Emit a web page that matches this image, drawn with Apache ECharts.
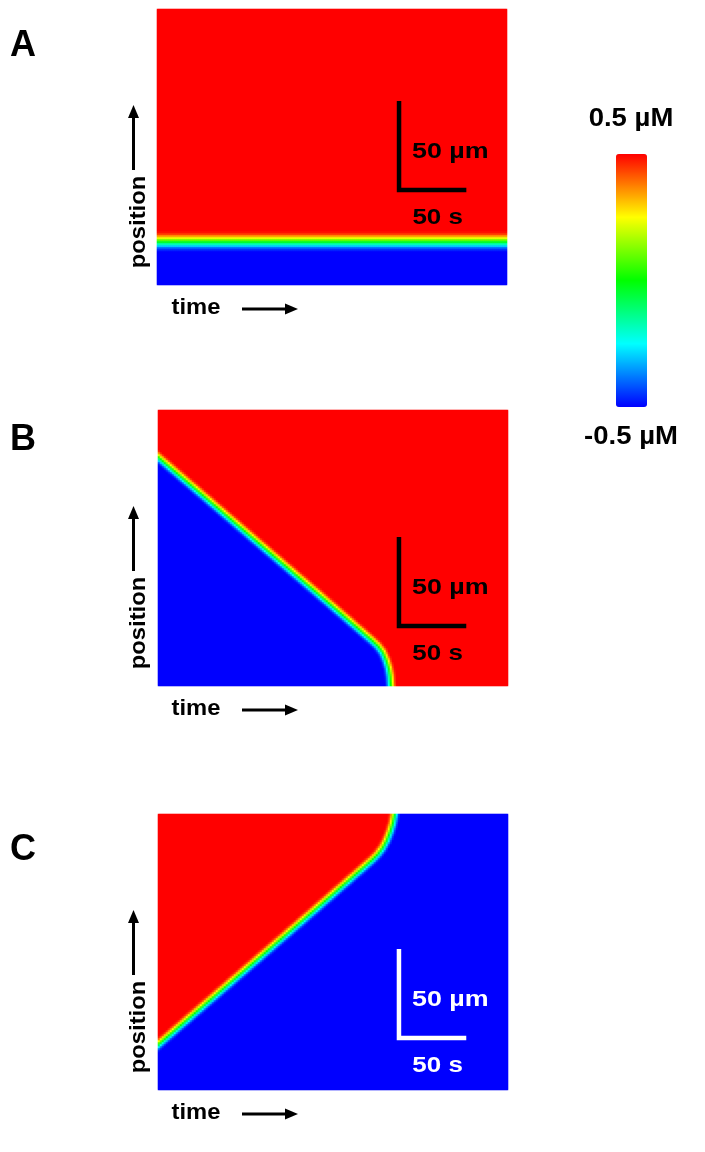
<!DOCTYPE html>
<html><head><meta charset="utf-8">
<script src="https://cdn.jsdelivr.net/npm/echarts@6/dist/echarts.min.js"></script>
<style>html,body{margin:0;padding:0;background:#fff}#chart{width:705px;height:1152px}</style>
</head><body><div id="chart"></div>
<script>
// ---------------- data ----------------
const panelNames = ['A', 'B', 'C'];
const timeRange = [0, 260];       // s   (panel width, from the 50 s scale bar)
const positionRange = [0, 155];   // µm  (panel height, from the 50 µm scale bar)
const concRange = [-0.5, 0.5];    // µM
const colorbarLabels = ['0.5 µM', '-0.5 µM'];
const scaleBarLength = 50;        // 50 µm and 50 s
const scaleBarLabels = ['50 µm', '50 s'];
const axisNames = ['position', 'time'];

// front (0 µM mid-point) position versus time for each kymograph
const frontTimeA = [0, 65, 130, 195, 260];
const frontPosA  = [24.5, 24.5, 24.5, 24.5, 24.5];
const frontTimeB = [0, 40, 80, 120, 159.0, 163.4, 167.1, 169.7, 171.6, 172.7, 173.2];
const frontPosB  = [128.8, 103.0, 77.1, 51.3, 25.8, 22.7, 19.1, 14.6, 10.1, 5.6, 0];
const frontTimeC = [0, 40, 80, 120, 159.0, 163.4, 167.1, 170.1, 172.7, 174.6, 175.9];
const frontPosC  = [25.4, 51.4, 77.4, 103.5, 129.2, 132.5, 136.2, 140.4, 145.4, 149.9, 155];
// concentration once the front has left the panel (+1 -> 0.5 µM, -1 -> -0.5 µM)
const afterFrontA = 1, afterFrontB = 1, afterFrontC = -1;
// concentration across the front (distance in front half-widths -> µM)
const profileDist = [-1, -0.7, -0.35, 0, 0.35, 0.7, 1];
const profileConc = [-0.5, -0.43, -0.24, 0, 0.24, 0.43, 0.5];
const frontHalfWidth = [10, 6, 6]; // px, A is more diffuse
const colormap = ['#0000ff', '#00ffff', '#00ff00', '#ffff00', '#ff0000'];

// ---------------- layout ----------------
const FONT = '"Liberation Sans", Arial, sans-serif';
const panels = [
  { left: 157, top: 9,   width: 350, height: 276, bar: [179.8, 53.4], barColor: '#000' },
  { left: 158, top: 410, width: 350, height: 276, bar: [179.0, 33.7], barColor: '#000' },
  { left: 158, top: 814, width: 350, height: 276, bar: [179.0, 29.2], barColor: '#fff' }
];
const nCols = 175, nRows = 138;
const fronts = [[frontTimeA, frontPosA, afterFrontA], [frontTimeB, frontPosB, afterFrontB], [frontTimeC, frontPosC, afterFrontC]];

function interp(xs, ys, x) {
  if (x <= xs[0]) return ys[0];
  for (let k = 1; k < xs.length; k++) {
    if (x <= xs[k]) { const f = (x - xs[k-1]) / (xs[k] - xs[k-1]); return ys[k-1] + f * (ys[k] - ys[k-1]); }
  }
  return ys[ys.length - 1];
}
function segDist(px, py, ax, ay, bx, by) {
  const dx = bx - ax, dy = by - ay; const L = dx*dx + dy*dy;
  let u = L > 0 ? ((px-ax)*dx + (py-ay)*dy) / L : 0; u = Math.max(0, Math.min(1, u));
  const qx = ax + u*dx - px, qy = ay + u*dy - py; return Math.sqrt(qx*qx + qy*qy);
}
const timeCats = [], posCats = [];
for (let i = 0; i < nCols; i++) timeCats.push(((i + 0.5) / nCols * (timeRange[1] - timeRange[0])).toFixed(2));
for (let j = 0; j < nRows; j++) posCats.push(((j + 0.5) / nRows * (positionRange[1] - positionRange[0])).toFixed(2));

function buildCells(pi) {
  const [ft, fp, after] = fronts[pi];
  const pw = panels[pi].width, ph = panels[pi].height;
  const sx = pw / timeRange[1], sy = ph / positionRange[1];
  const pts = ft.map((t, k) => [t * sx, fp[k] * sy]);
  const ext = (a, b) => { const dx = b[0]-a[0], dy = b[1]-a[1], l = Math.hypot(dx, dy) || 1; return [b[0] + dx/l*60, b[1] + dy/l*60]; };
  const poly = [ext(pts[1], pts[0])].concat(pts, [ext(pts[pts.length-2], pts[pts.length-1])]);
  const hw = frontHalfWidth[pi];
  const cells = [];
  for (let i = 0; i < nCols; i++) {
    const t = +timeCats[i];
    const past = t > ft[ft.length - 1];
    const pf = past ? null : interp(ft, fp, t);
    for (let j = 0; j < nRows; j++) {
      const p = +posCats[j];
      const side = past ? after : (p >= pf ? 1 : -1);
      const cx = t * sx, cy = p * sy;
      let d = Infinity;
      for (let k = 1; k < poly.length; k++) d = Math.min(d, segDist(cx, cy, poly[k-1][0], poly[k-1][1], poly[k][0], poly[k][1]));
      const s = Math.max(-1, Math.min(1, side * d / hw));
      cells.push([i, j, +interp(profileDist, profileConc, s).toFixed(3)]);
    }
  }
  return cells;
}

const grids = [], xAxes = [], yAxes = [], series = [];
panels.forEach(P => grids.push({ left: P.left, top: P.top, width: P.width, height: P.height }));
panels.forEach(P => grids.push({ left: P.left, top: P.top, width: P.width, height: P.height }));
panels.forEach((P, i) => {
  xAxes.push({ type: 'category', gridIndex: i, data: timeCats, show: false });
  yAxes.push({ type: 'category', gridIndex: i, data: posCats, show: false });
});
panels.forEach((P, i) => {
  xAxes.push({ type: 'value', gridIndex: 3 + i, min: timeRange[0], max: timeRange[1], show: false });
  yAxes.push({ type: 'value', gridIndex: 3 + i, min: positionRange[0], max: positionRange[1], show: false });
});
panels.forEach((P, i) => {
  series.push({ type: 'heatmap', name: panelNames[i], xAxisIndex: i, yAxisIndex: i, data: buildCells(i), progressive: 0, silent: true, emphasis: { disabled: true } });
});
panels.forEach((P, i) => {
  const [t0, p0] = P.bar;
  series.push({ type: 'line', xAxisIndex: 3 + i, yAxisIndex: 3 + i, symbol: 'none', silent: true,
    data: [[t0, p0 + scaleBarLength], [t0, p0], [t0 + scaleBarLength, p0]],
    lineStyle: { color: P.barColor, width: 4.5, cap: 'butt', join: 'miter' } });
});

const txt = (x, y, text, size, sx, extra, color) => Object.assign({ type: 'text', x, y, z: 100, silent: true, scaleX: sx,
  style: { text, fill: color || '#000', font: 'bold ' + size + 'px ' + FONT, align: 'center', verticalAlign: 'middle' } }, extra || {});
function buildGraphic(chart) {
  const graphic = [];
  const letterY = [46, 440, 850];
  panels.forEach((P, i) => {
    const L = txt(10, letterY[i], panelNames[i], 36, 1); L.style.align = 'left'; graphic.push(L);
    graphic.push(txt(138.5, P.top + 213, axisNames[0], 22, 1.08, { rotation: Math.PI / 2 }));
    const ax = 133.5, tip = P.top + 96, tail = P.top + 161;
    graphic.push({ type: 'line', z: 100, silent: true, shape: { x1: ax, y1: tail, x2: ax, y2: tip + 8 }, style: { stroke: '#000', lineWidth: 3 } });
    graphic.push({ type: 'polygon', z: 100, silent: true, shape: { points: [[ax, tip], [ax - 5.5, tip + 13], [ax + 5.5, tip + 13]] }, style: { fill: '#000' } });
    const ty = P.top + P.height + 23;
    graphic.push(txt(196, ty, axisNames[1], 22, 1.08));
    const tipx = 298, tailx = 242, ay = ty + 1;
    graphic.push({ type: 'line', z: 100, silent: true, shape: { x1: tailx, y1: ay, x2: tipx - 8, y2: ay }, style: { stroke: '#000', lineWidth: 3 } });
    graphic.push({ type: 'polygon', z: 100, silent: true, shape: { points: [[tipx, ay], [tipx - 13, ay - 5.5], [tipx - 13, ay + 5.5]] }, style: { fill: '#000' } });
    // scale-bar labels, anchored to the scale bar's data position
    const [t0, p0] = P.bar;
    const c = chart.convertToPixel({ gridIndex: 3 + i }, [t0, p0]);
    const m = chart.convertToPixel({ gridIndex: 3 + i }, [t0 + scaleBarLength / 2, p0]);
    const u = txt(c[0] + 13, c[1] - 38, scaleBarLabels[0], 22, 1.22, null, P.barColor); u.style.align = 'left'; graphic.push(u);
    graphic.push(txt(m[0] + 5, m[1] + 28, scaleBarLabels[1], 22, 1.18, null, P.barColor));
  });
  graphic.push(txt(631, 119, colorbarLabels[0], 25, 1.1));
  graphic.push(txt(631, 437, colorbarLabels[1], 25, 1.1));
  return graphic;
}

const chart = echarts.init(document.getElementById('chart'), null, { renderer: 'canvas' });
chart.setOption({
  animation: false,
  backgroundColor: '#fff',
  grid: grids, xAxis: xAxes, yAxis: yAxes,
  visualMap: {
    type: 'continuous', min: concRange[0], max: concRange[1], seriesIndex: [0, 1, 2],
    calculable: false, hoverLink: false, orient: 'vertical', left: 616, top: 154,
    itemWidth: 31, itemHeight: 253, padding: 0, text: null, showLabel: false,
    inRange: { color: colormap }
  },
  series
});
chart.setOption({ graphic: buildGraphic(chart) });
</script></body></html>
